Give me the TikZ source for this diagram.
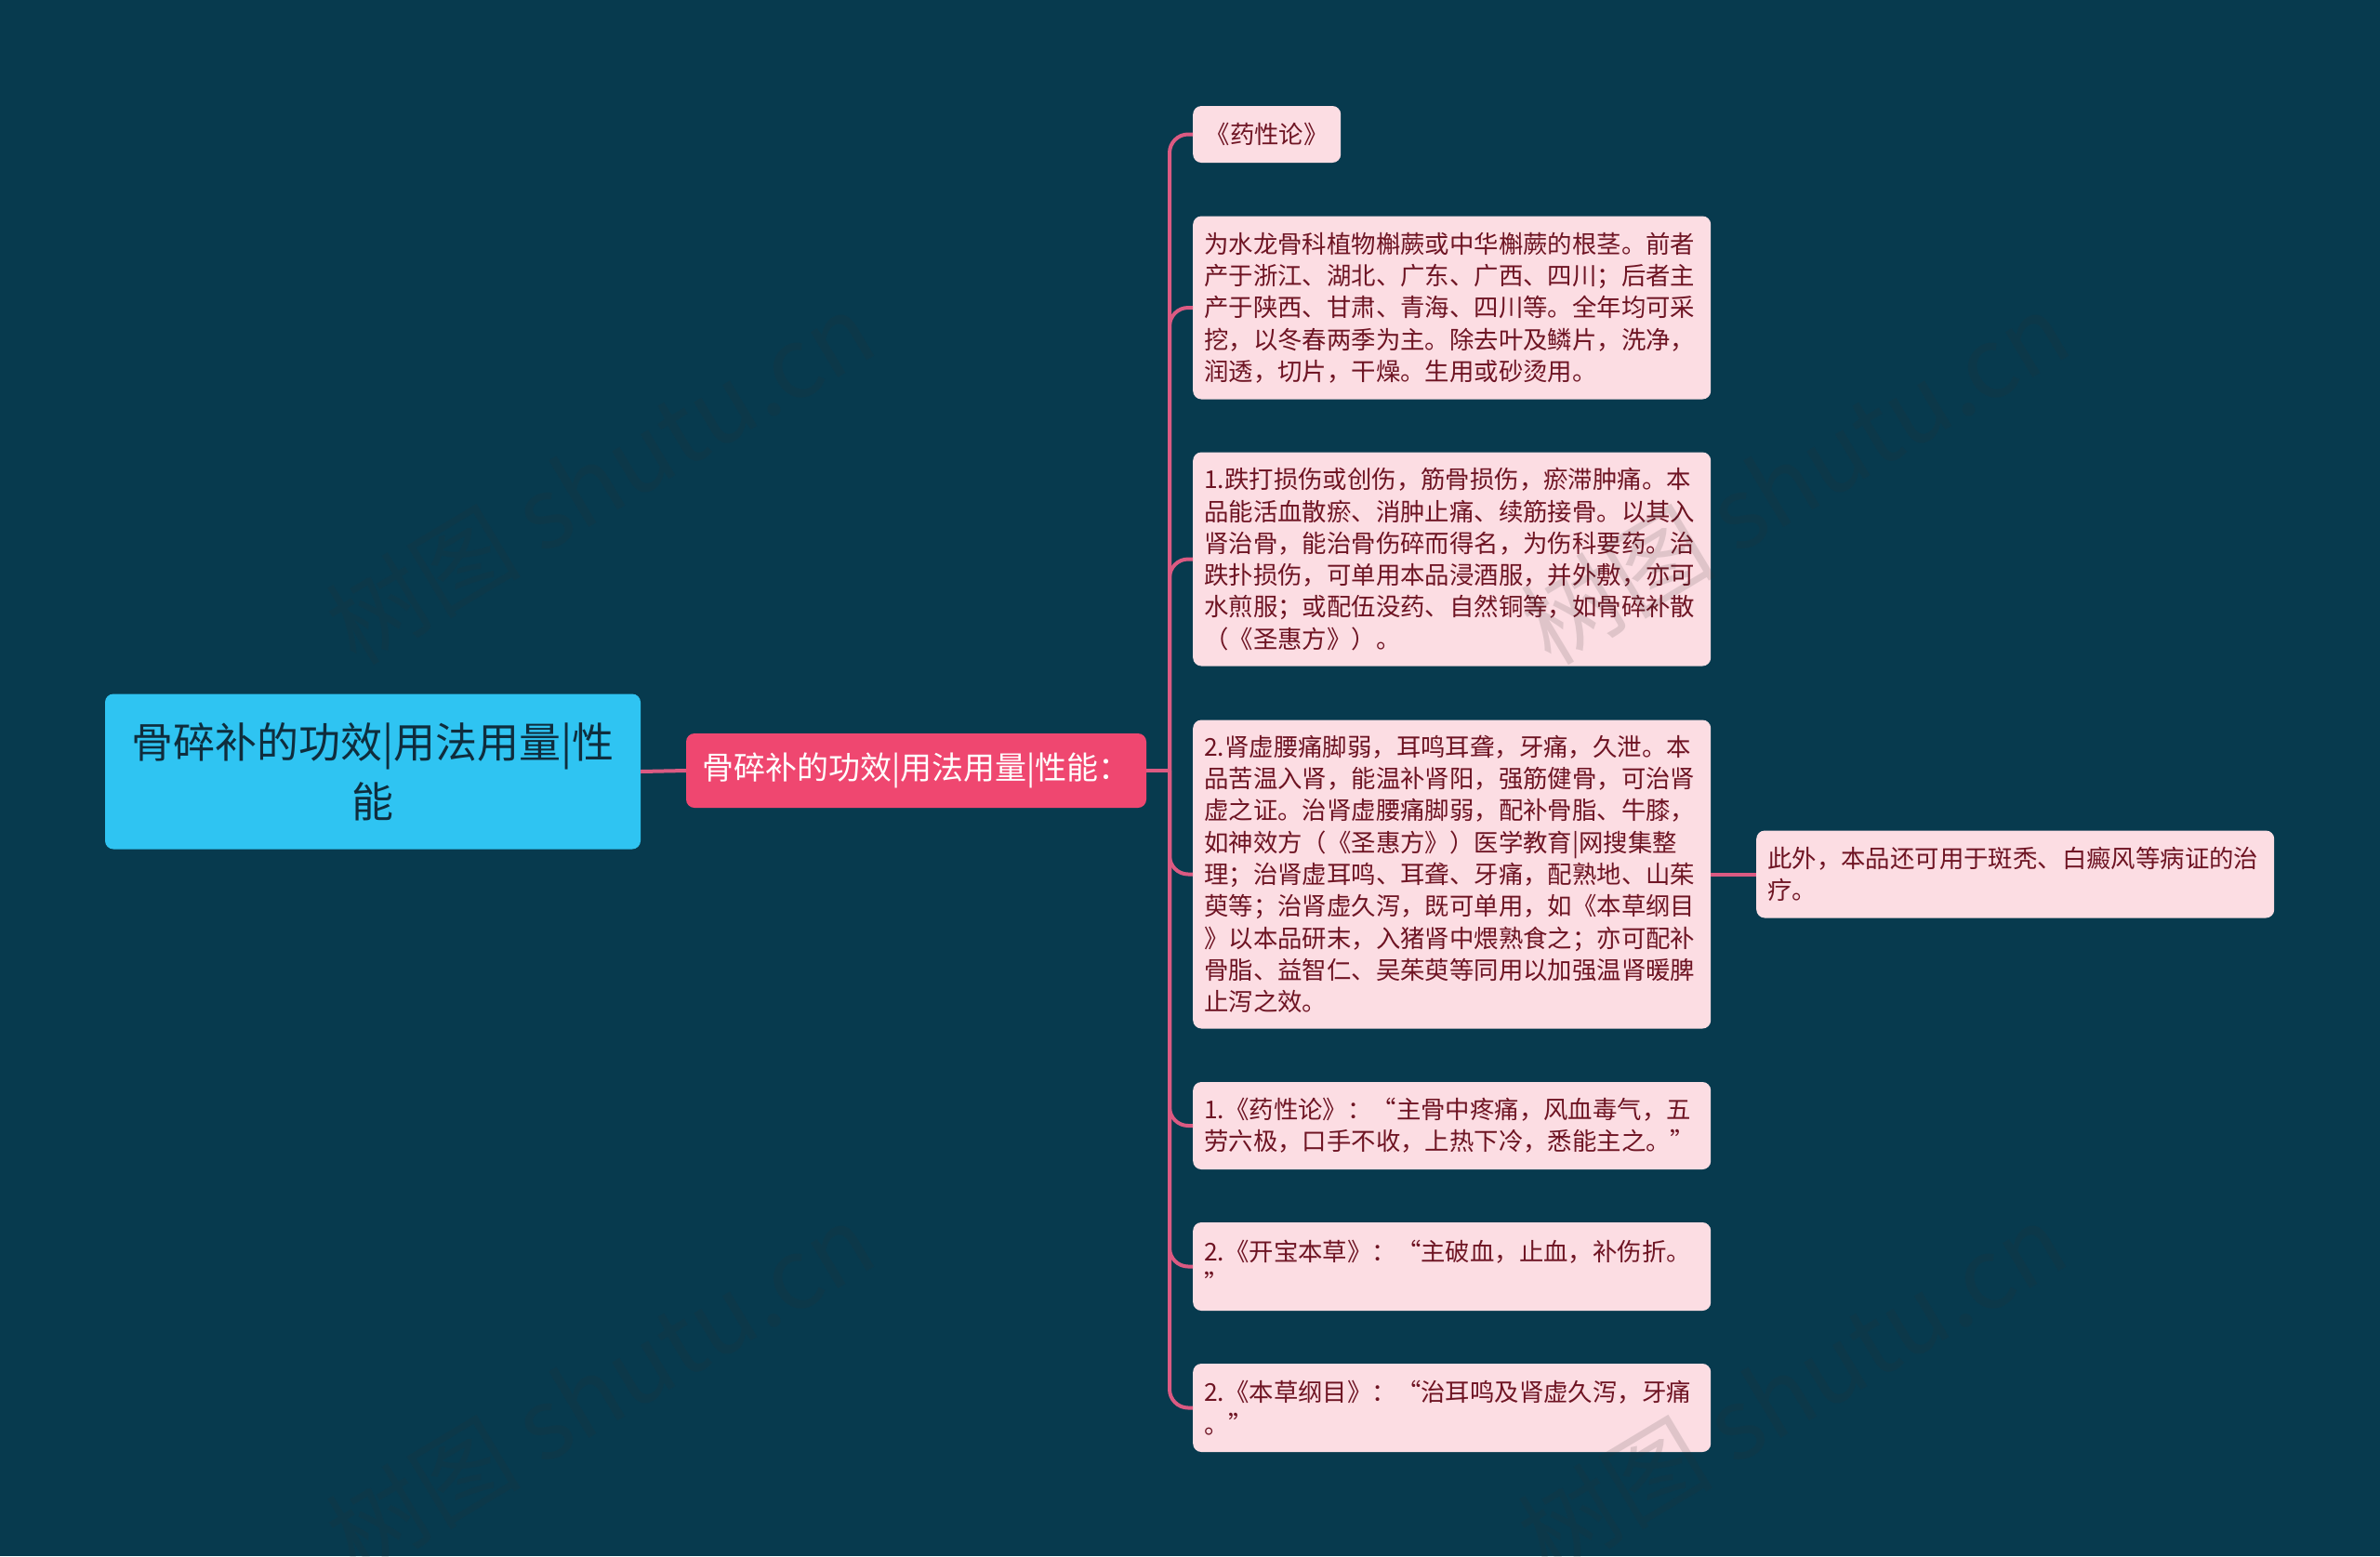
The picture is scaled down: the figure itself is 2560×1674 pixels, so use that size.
\documentclass[tikz,border=0pt]{standalone}
\usepackage{fontspec}
\setmainfont{Noto Sans CJK SC}
\definecolor{bgc}{HTML}{073A4E}
\definecolor{rootfill}{HTML}{2FC4F2}
\definecolor{roottext}{HTML}{0F2D3D}
\definecolor{midfill}{HTML}{EF4770}
\definecolor{leaffill}{HTML}{FCDDE3}
\definecolor{leaftext}{HTML}{6E1423}
\definecolor{conncol}{HTML}{DB5A82}
\definecolor{wmcol}{HTML}{303030}
\begin{document}
\begin{tikzpicture}[x=1pt,y=-1pt,
  rootbox/.style={fill=rootfill, text=roottext, rounded corners=9pt, align=center,
    minimum width=576pt, minimum height=167pt, inner sep=0pt,
    font=\fontsize{45}{64}\selectfont},
  midbox/.style={fill=midfill, text=white, rounded corners=9pt, align=center,
    minimum width=495pt, minimum height=80pt, inner sep=0pt,
    font=\fontsize{34}{40}\selectfont},
  leafbox/.style={fill=leaffill, text=leaftext, rounded corners=9pt, anchor=west,
    text width=533pt, inner xsep=12pt, inner ysep=0pt, align=left,
    font=\fontsize{26.4}{34.3}\selectfont},
  leafshort/.style={fill=leaffill, text=leaftext, rounded corners=9pt, anchor=west,
    minimum width=159pt, inner xsep=0pt, inner ysep=0pt, align=center,
    font=\fontsize{26.4}{34.3}\selectfont},
  conn/.style={draw=conncol, line width=4pt},
  wm/.style={text=wmcol, opacity=0.14, rotate=31, font=\fontsize{105}{105}\selectfont}
]
\useasboundingbox (0,0) rectangle (2560,1674);
\fill[bgc] (0,0) rectangle (2560,1674);

\node[rootbox] (root) at (401,830) {骨碎补的功效|用法用量|性\\能};
\node[midbox] (mid) at (985.5,829) {骨碎补的功效|用法用量|性能：};

\node[leafshort, minimum height=61pt] (l1) at (1283,144.5) {《药性论》};
\node[leafbox, minimum height=197pt] (l2) at (1283,331) {为水龙骨科植物槲蕨或中华槲蕨的根茎。前者\\
产于浙江、湖北、广东、广西、四川；后者主\\
产于陕西、甘肃、青海、四川等。全年均可采\\
挖，以冬春两季为主。除去叶及鳞片，洗净，\\
润透，切片，干燥。生用或砂烫用。};
\node[leafbox, minimum height=230pt] (l3) at (1283,601.5) {1.跌打损伤或创伤，筋骨损伤，瘀滞肿痛。本\\
品能活血散瘀、消肿止痛、续筋接骨。以其入\\
肾治骨，能治骨伤碎而得名，为伤科要药。治\\
跌扑损伤，可单用本品浸酒服，并外敷，亦可\\
水煎服；或配伍没药、自然铜等，如骨碎补散\\
（《圣惠方》）。};
\node[leafbox, minimum height=332pt] (l4) at (1283,940.5) {2.肾虚腰痛脚弱，耳鸣耳聋，牙痛，久泄。本\\
品苦温入肾，能温补肾阳，强筋健骨，可治肾\\
虚之证。治肾虚腰痛脚弱，配补骨脂、牛膝，\\
如神效方（《圣惠方》）医学教育|网搜集整\\
理；治肾虚耳鸣、耳聋、牙痛，配熟地、山茱\\
萸等；治肾虚久泻，既可单用，如《本草纲目\\
》以本品研末，入猪肾中煨熟食之；亦可配补\\
骨脂、益智仁、吴茱萸等同用以加强温肾暖脾\\
止泻之效。};
\node[leafbox, minimum height=94pt] (l5) at (1283,1211) {1.《药性论》：“主骨中疼痛，风血毒气，五\\
劳六极，口手不收，上热下冷，悉能主之。”};
\node[leafbox, minimum height=95pt] (l6) at (1283,1362.5) {2.《开宝本草》：“主破血，止血，补伤折。\\
”};
\node[leafbox, minimum height=95pt] (l7) at (1283,1514.5) {2.《本草纲目》：“治耳鸣及肾虚久泻，牙痛\\
。”};
\node[leafbox, minimum height=94pt] (side) at (1889,940.5) {此外，本品还可用于斑秃、白癜风等病证的治\\
疗。};

\coordinate (tk) at (1258,829);
\draw[conn] (root.east) -- (mid.west);
\draw[conn] (mid.east) -- (tk);
\foreach \n in {l1,l2,l3,l4,l5,l6,l7}{
  \draw[conn, rounded corners=20pt] (tk) |- (\n.west);
}
\draw[conn] (l4.east) -- (side.west);

\node[wm] (wm1) at (645,514) {树图 shutu.cn};
\node[wm] (wm2) at (1930,514) {树图 shutu.cn};
\node[wm] (wm3) at (645,1494) {树图 shutu.cn};
\node[wm] (wm4) at (1927,1494) {树图 shutu.cn};
\end{tikzpicture}
\end{document}
